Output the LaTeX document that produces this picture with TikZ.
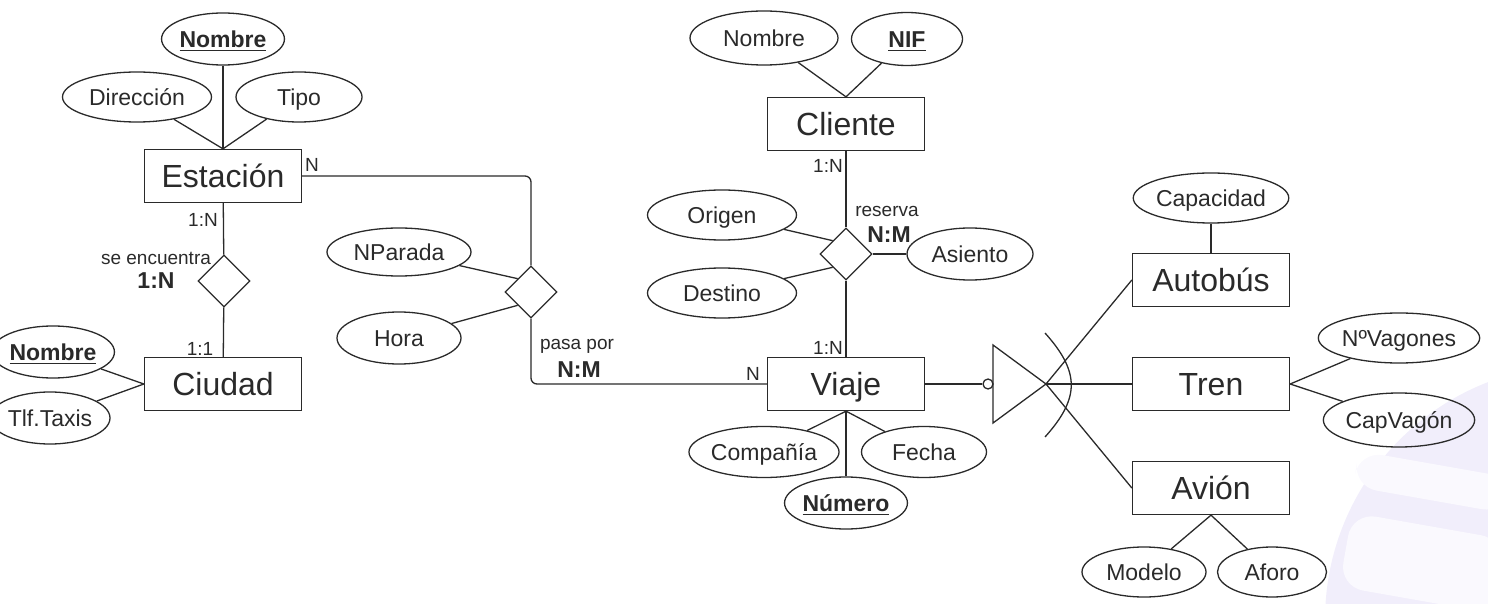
\documentclass[tikz,border=0pt]{standalone}
\usepackage{fontspec}
\setmainfont{Liberation Sans}
\usetikzlibrary{shapes.geometric,positioning}
\definecolor{cInk}{HTML}{2A2A2A}
\definecolor{cMark}{HTML}{F1EEFB}
\tikzset{
  ent/.style ={draw=cInk,line width=0.65pt,minimum width=78.5pt,minimum height=26.5pt,inner sep=0pt,
               text height=13pt,text depth=1.5pt,font=\fontsize{16}{18}\selectfont,text=cInk},
  attr/.style={ellipse,draw=cInk,line width=0.65pt,inner sep=0pt,text height=9.7pt,text depth=1.5pt,
               font=\fontsize{11.5}{13}\selectfont,text=cInk},
  rel/.style ={diamond,draw=cInk,line width=0.65pt,minimum width=26pt,minimum height=26pt,inner sep=0pt},
  card/.style={font=\fontsize{9.5}{11}\selectfont,text=cInk,inner sep=0pt},
  bcard/.style={font=\fontsize{11.5}{13}\selectfont\bfseries,text=cInk,inner sep=0pt},
  ln/.style  ={draw=cInk,line width=0.65pt},
  markbar/.style={fill=cMark!35!white,rounded corners=12pt},
}
\newcommand{\key}[1]{\underline{\textbf{#1}}}

\begin{document}
\begin{tikzpicture}[x=0.5pt,y=-0.5pt]
\useasboundingbox (0,0) rectangle (1488,604);
\clip (0,0) rectangle (1488,604);
% logo de fondo
\fill[cMark] (1580,620) circle (127.5pt);
\fill[markbar,rotate around={-10:(1420,480)}] (1355,462) rectangle (1510,498);
\fill[markbar,rotate around={-10:(1420,560)}] (1345,525) rectangle (1500,600);

% Estacion / Ciudad
\node[ent] (est) at (223,176) {Estación};
\node[attr,minimum width=59pt,minimum height=26pt] (estNom) at (223,39) {\key{Nombre}};
\node[attr,minimum width=74.5pt,minimum height=25pt] (estDir) at (137,97) {Dirección};
\node[attr,minimum width=63pt,minimum height=25pt] (estTipo) at (299,97) {Tipo};
\node[rel] (se) at (224,281) {};
\node[ent] (ciu) at (223,384) {Ciudad};
\node[attr,minimum width=58pt,minimum height=26pt] (ciuNom) at (53,352) {\key{Nombre}};
\node[attr,minimum width=60pt,minimum height=26pt] (ciuTlf) at (50,418) {Tlf.Taxis};
\draw[ln] (estNom) -- (est.north);
\draw[ln] (estDir) -- (est.north);
\draw[ln] (estTipo) -- (est.north);
\draw[ln] (est) -- (se) -- (ciu);
\draw[ln] (ciuNom) -- (ciu.west);
\draw[ln] (ciuTlf) -- (ciu.west);
\node[card] (estCardN) at (312,165) {N};
\node[card] (estCard) at (203,220) {1:N};
\node[card] (seName) at (156,258) {se encuentra};
\node[bcard] (seCard) at (156,281) {1:N};
\node[card] (ciuCard) at (200,349) {1:1};

% pasa por
\node[rel] (pp) at (531,292) {};
\node[attr,minimum width=72pt,minimum height=24pt] (ppPar) at (399,252) {NParada};
\node[attr,minimum width=62pt,minimum height=26pt] (ppHora) at (399,338) {Hora};
\draw[ln] (ppPar) -- (pp.north west);
\draw[ln] (ppHora) -- (pp.south west);
\node[card] (ppName) at (577,346) {pasa por};
\node[bcard] (ppCard) at (579,370) {N:M};

% Cliente / reserva / Viaje
\node[ent] (cli) at (846,124) {Cliente};
\node[attr,minimum width=74pt,minimum height=27pt] (cliNom) at (764,38) {Nombre};
\node[attr,minimum width=55.5pt,minimum height=26.5pt] (cliNif) at (907,39) {\key{NIF}};
\node[rel] (res) at (846,254) {};
\node[attr,minimum width=74.5pt,minimum height=25pt] (resOri) at (722,215) {Origen};
\node[attr,minimum width=74.5pt,minimum height=25pt] (resDes) at (722,293) {Destino};
\node[attr,minimum width=63pt,minimum height=26pt] (resAsi) at (970,254) {Asiento};
\node[ent] (via) at (846,384) {Viaje};
\node[attr,minimum width=74pt,minimum height=25.5pt] (viaCom) at (764,452) {Compañía};
\node[attr,minimum width=62.5pt,minimum height=25.5pt] (viaFec) at (924,452) {Fecha};
\node[attr,minimum width=56pt,minimum height=26pt] (viaNum) at (846,503) {\key{Número}};
\draw[ln] (cliNom) -- (cli.north);
\draw[ln] (cliNif) -- (cli.north);
\draw[ln] (cli) -- (res) -- (via);
\draw[ln] (resOri) -- (res.north west);
\draw[ln] (resDes) -- (res.south west);
\draw[ln] (res.east) -- (resAsi);
\draw[ln] (viaCom) -- (via.south);
\draw[ln] (viaFec) -- (via.south);
\draw[ln] (viaNum) -- (via.south);
\draw[ln,rounded corners=3pt] (est.east) -| (pp.north);
\draw[ln,rounded corners=3pt] (pp.south) |- (via.west);
\node[card] (viaCardN) at (753,374) {N};
\node[card] (cliCard) at (828,166) {1:N};
\node[card] (resName) at (887,211) {reserva};
\node[bcard] (resCard) at (889,235) {N:M};
\node[card] (viaCard) at (828,348) {1:N};

% especializacion
\node[circle,draw=cInk,line width=0.65pt,fill=white,inner sep=0pt,minimum size=5pt] (isaDot) at (988,384) {};
\coordinate (isaTop) at (993,345);
\coordinate (isaBot) at (993,423);
\coordinate (isaTip) at (1046,384);
\node[ent] (aut) at (1211,280) {Autobús};
\node[ent] (tren) at (1211,384) {Tren};
\node[ent] (avi) at (1211,488) {Avión};
\node[attr,minimum width=64pt,minimum height=25pt] (autCap) at (1211,198) {Capacidad};
\node[attr,minimum width=73pt,minimum height=25pt] (trenVag) at (1399,338) {NºVagones};
\node[attr,minimum width=73pt,minimum height=27pt] (trenCap) at (1399,420) {CapVagón};
\node[attr,minimum width=62pt,minimum height=25pt] (aviMod) at (1144,572) {Modelo};
\node[attr,minimum width=54.5pt,minimum height=25pt] (aviAfo) at (1272,572) {Aforo};
\draw[ln] (via.east) -- (isaDot);
\draw[ln] (isaTop) -- (isaTip) -- (isaBot) -- cycle;
\draw[ln] (isaTip) -- (aut.west);
\draw[ln] (isaTip) -- (tren.west);
\draw[ln] (isaTip) -- (avi.west);
\draw[ln] (1045,333) .. controls (1080,372) and (1080,398) .. (1045,437);
\draw[ln] (autCap) -- (aut);
\draw[ln] (trenVag) -- (tren.east);
\draw[ln] (trenCap) -- (tren.east);
\draw[ln] (aviMod) -- (avi.south);
\draw[ln] (aviAfo) -- (avi.south);
\end{tikzpicture}
\end{document}
